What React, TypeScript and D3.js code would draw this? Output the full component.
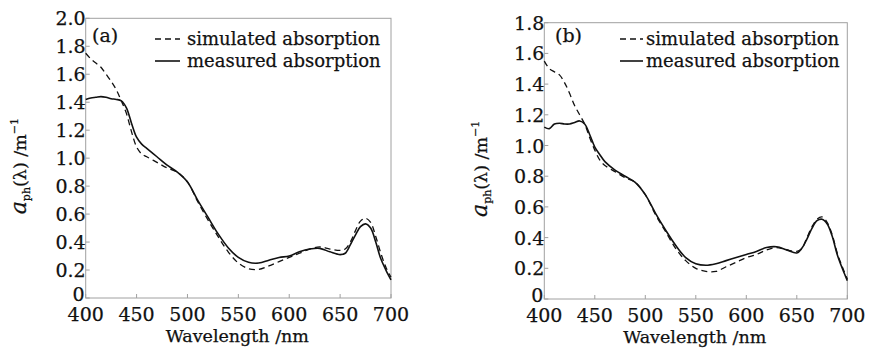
import React, { useEffect, useRef } from "react";
import * as d3 from "d3";

// wavelengths (nm) shared by all series
const wavelengths = [400, 405, 410, 415, 420, 425, 430, 435, 440, 445, 450, 455, 460, 470, 480, 490, 500, 510, 520, 530, 540, 550, 560, 570, 580, 590, 600, 610, 620, 630, 640, 650, 655, 660, 665, 670, 675, 680, 685, 690, 695, 700];

// panel (a)
const measuredA = [1.42, 1.43, 1.435, 1.44, 1.435, 1.425, 1.42, 1.41, 1.36, 1.25, 1.15, 1.1, 1.07, 1.01, 0.95, 0.9, 0.83, 0.7, 0.58, 0.46, 0.36, 0.29, 0.255, 0.25, 0.27, 0.29, 0.3, 0.33, 0.35, 0.355, 0.33, 0.31, 0.32, 0.38, 0.45, 0.51, 0.53, 0.5, 0.4, 0.28, 0.2, 0.13];
const simulatedA = [1.75, 1.71, 1.68, 1.65, 1.6, 1.55, 1.49, 1.41, 1.32, 1.19, 1.08, 1.03, 1.01, 0.97, 0.93, 0.9, 0.83, 0.69, 0.56, 0.44, 0.33, 0.25, 0.21, 0.205, 0.23, 0.26, 0.29, 0.32, 0.35, 0.365, 0.35, 0.34, 0.35, 0.4, 0.48, 0.55, 0.57, 0.54, 0.44, 0.32, 0.22, 0.15];

// panel (b)
const measuredB = [1.12, 1.11, 1.14, 1.145, 1.14, 1.14, 1.15, 1.16, 1.14, 1.07, 0.99, 0.94, 0.895, 0.84, 0.8, 0.76, 0.68, 0.56, 0.45, 0.35, 0.27, 0.23, 0.22, 0.23, 0.25, 0.27, 0.29, 0.31, 0.335, 0.34, 0.32, 0.3, 0.33, 0.39, 0.46, 0.51, 0.52, 0.49, 0.41, 0.29, 0.2, 0.12];
const simulatedB = [1.55, 1.5, 1.48, 1.46, 1.41, 1.34, 1.26, 1.2, 1.14, 1.05, 0.97, 0.905, 0.87, 0.83, 0.79, 0.76, 0.68, 0.55, 0.44, 0.33, 0.25, 0.2, 0.18, 0.18, 0.21, 0.24, 0.27, 0.29, 0.32, 0.335, 0.32, 0.31, 0.33, 0.4, 0.47, 0.52, 0.535, 0.5, 0.42, 0.3, 0.21, 0.13];

const xTicks = [400, 450, 500, 550, 600, 650, 700];
const yTicksA = [0, 0.2, 0.4, 0.6, 0.8, 1.0, 1.2, 1.4, 1.6, 1.8, 2.0];
const yTicksB = [0, 0.2, 0.4, 0.6, 0.8, 1.0, 1.2, 1.4, 1.6, 1.8];
const legendLabels = ["simulated absorption", "measured absorption"];

const FONT = "'DejaVu Serif', 'Liberation Serif', serif";
const INK = "#111";

const panels = [
  { tag: "(a)", measured: measuredA, simulated: simulatedA, yMax: 2.0, yTicks: yTicksA,
    left: 85.7, right: 391, top: 18.3, bottom: 298, yLabelX: 26, tagX: 92, legX1: 155, legX2: 180, legTextX: 187 },
  { tag: "(b)", measured: measuredB, simulated: simulatedB, yMax: 1.8, yTicks: yTicksB,
    left: 544.3, right: 847.3, top: 22.7, bottom: 299, yLabelX: 487, tagX: 555, legX1: 620, legX2: 643, legTextX: 646 },
];

const App = () => {
  const ref = useRef<SVGSVGElement>(null);

  useEffect(() => {
    const svg = d3.select(ref.current);
    svg.selectAll("*").remove();

    panels.forEach(p => {
      const x = d3.scaleLinear().domain([400, 700]).range([p.left, p.right]);
      const y = d3.scaleLinear().domain([0, p.yMax]).range([p.bottom, p.top]);
      const g = svg.append("g");

      // frame
      g.append("rect")
        .attr("x", p.left).attr("y", p.top)
        .attr("width", p.right - p.left).attr("height", p.bottom - p.top)
        .attr("fill", "none").attr("stroke", "#a0a0a0").attr("stroke-width", 1);

      // ticks pointing inward
      g.selectAll(".xt").data(xTicks).enter().append("line")
        .attr("x1", d => x(d)).attr("x2", d => x(d))
        .attr("y1", p.bottom).attr("y2", p.bottom - 4)
        .attr("stroke", "#a0a0a0");
      g.selectAll(".yt").data(p.yTicks).enter().append("line")
        .attr("x1", p.left).attr("x2", p.left + 4)
        .attr("y1", d => y(d)).attr("y2", d => y(d))
        .attr("stroke", "#a0a0a0");

      const txt = (sel: any, size: number) =>
        sel.style("font-family", FONT).style("font-size", `${size}px`)
          .attr("fill", INK).attr("stroke", INK).attr("stroke-width", 0.25);

      // tick labels
      txt(g.selectAll(".xl").data(xTicks).enter().append("text")
        .attr("x", d => x(d)).attr("y", p.bottom + 23)
        .attr("text-anchor", "middle"), 19)
        .text(d => d);
      txt(g.selectAll(".yl").data(p.yTicks).enter().append("text")
        .attr("x", d => p.left - (d === 0 ? 1 : 0)).attr("y", d => y(d) + (d === 0 ? 3 : 7))
        .attr("text-anchor", "end"), 19)
        .text(d => (d === 0 ? "0" : d3.format(".1f")(d)));

      // axis titles
      txt(g.append("text")
        .attr("x", (p.left + p.right) / 2 - 1).attr("y", p.bottom + 44)
        .attr("text-anchor", "middle"), 17.5)
        .text("Wavelength /nm");

      const yl = txt(g.append("text")
        .attr("transform", `translate(${p.yLabelX}, ${(p.top + p.bottom) / 2 + 8}) rotate(-90)`)
        .attr("text-anchor", "middle"), 17.5);
      yl.append("tspan").style("font-style", "italic").style("font-size", "22px").text("a");
      yl.append("tspan").attr("dy", 4).style("font-size", "11px").text("ph");
      yl.append("tspan").attr("dy", -4).text("(λ) /m");
      yl.append("tspan").attr("dy", -8).style("font-size", "11px").text("−1");

      // curves
      const line = d3.line<number>()
        .x((_, i) => x(wavelengths[i]))
        .y(d => y(d))
        .curve(d3.curveCatmullRom);

      g.append("path").datum(p.simulated)
        .attr("d", line).attr("fill", "none")
        .attr("stroke", INK).attr("stroke-width", 1.3)
        .attr("stroke-dasharray", "6,4");
      g.append("path").datum(p.measured)
        .attr("d", line).attr("fill", "none")
        .attr("stroke", INK).attr("stroke-width", 1.6);

      // panel tag and legend
      txt(g.append("text").attr("x", p.tagX).attr("y", 42), 19).text(p.tag);

      [39, 61].forEach((ly, i) => {
        g.append("line")
          .attr("x1", p.legX1).attr("x2", p.legX2).attr("y1", ly).attr("y2", ly)
          .attr("stroke", INK).attr("stroke-width", i === 0 ? 1.3 : 1.6)
          .attr("stroke-dasharray", i === 0 ? "6,4" : null);
        txt(g.append("text").attr("x", p.legTextX).attr("y", ly + 6), 18)
          .text(legendLabels[i]);
      });
    });
  }, []);

  return <svg ref={ref} width={869} height={348} style={{ display: "block", position: "absolute", left: 0, top: 0, background: "#fff" }} />;
};

export default App;
